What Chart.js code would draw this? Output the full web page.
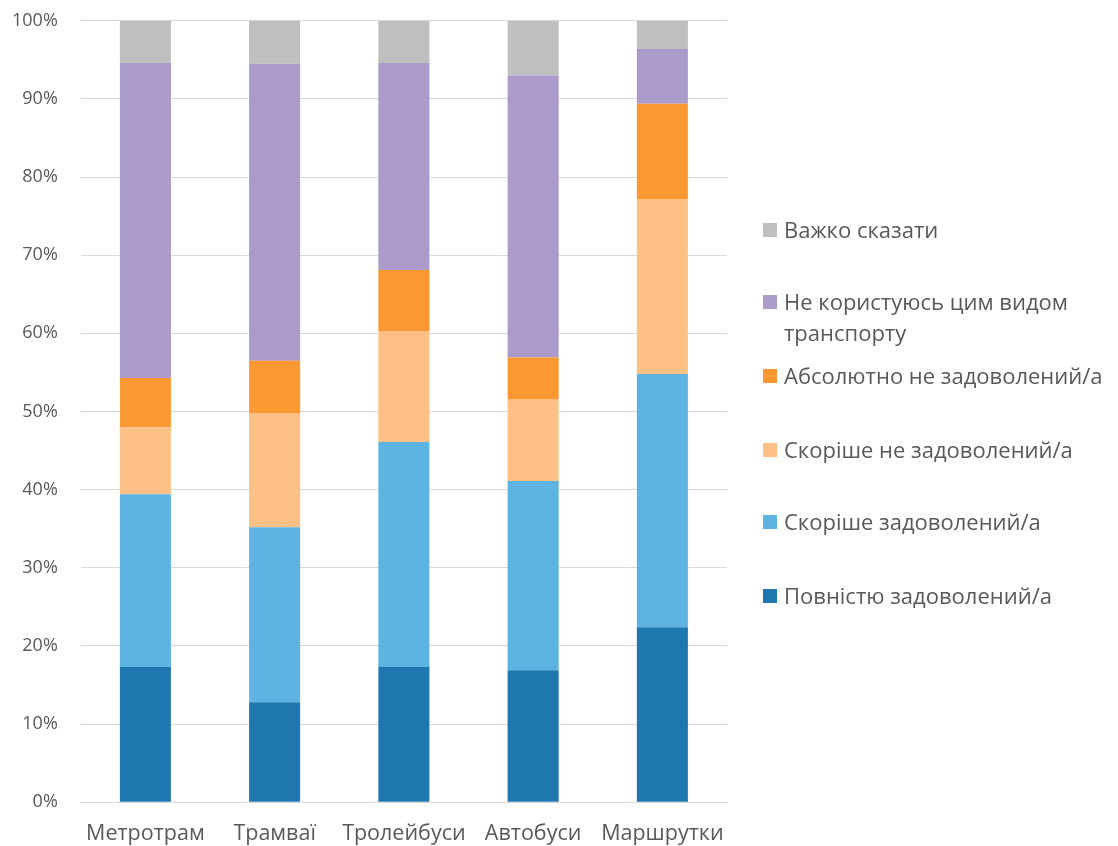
<!DOCTYPE html>
<html>
<head>
<meta charset="utf-8">
<script src="https://cdn.jsdelivr.net/npm/chart.js@4"></script>
<style>
    body { margin: 0; background: #fff; }
    #wrap { position: relative; width: 1118px; height: 846px; overflow: hidden; }
    #chart { position: absolute; left: 0; top: -13px; }
    #legend { position: absolute; left: 763px; top: 0; font-family: 'Open Sans', sans-serif; font-size: 22px; color: #595959; }
    .item { position: absolute; left: 0; width: 350px; line-height: 31px; white-space: nowrap; }
    .box { position: absolute; left: 0; top: 9px; width: 14px; height: 14px; }
    .txt { margin-left: 21px; }
</style>
</head>
<body>
<div id="wrap">
    <canvas id="chart" width="1118" height="859"></canvas>
    <div id="legend"></div>
</div>
<script>
const categories = ['Метротрам', 'Трамваї', 'Тролейбуси', 'Автобуси', 'Маршрутки'];
const seriesNames = ['Повністю задоволений/а', 'Скоріше задоволений/а', 'Скоріше не задоволений/а',
    'Абсолютно не задоволений/а', 'Не користуюсь цим видом транспорту', 'Важко сказати'];
const colours = ['#1f77b0', '#5db3e2', '#fec085', '#fb9831', '#ab9bca', '#bfbfbf'];

const fullySatisfied = [17.3, 12.8, 17.3, 16.9, 22.4];
const ratherSatisfied = [22.1, 22.4, 28.8, 24.2, 32.4];
const ratherNotSatisfied = [8.6, 14.6, 14.2, 10.5, 22.4];
const notSatisfied = [6.3, 6.7, 7.8, 5.3, 12.2];
const notUsing = [40.3, 38.0, 26.5, 36.1, 7.0];
const hardToSay = [5.4, 5.5, 5.4, 7.0, 3.6];

const seriesValues = [fullySatisfied, ratherSatisfied, ratherNotSatisfied, notSatisfied, notUsing, hardToSay];

// legend is drawn top-down in reverse order, like the stack
const legendTops = [214, 286, 360, 434, 506, 580];

function buildLegend() {
    const legend = document.getElementById('legend');
    for (let i = seriesNames.length - 1, row = 0; i >= 0; i--, row++) {
        const item = document.createElement('div');
        item.className = 'item';
        item.style.top = `${legendTops[row]}px`;
        item.innerHTML = `<span class="box" style="background:${colours[i]}"></span><div class="txt">${seriesNames[i]}</div>`;
        if (i === 4) {
            item.querySelector('.txt').innerHTML = 'Не користуюсь цим видом<br>транспорту';
        }
        legend.appendChild(item);
    }
}

const data = {
    labels: categories,
    datasets: seriesValues.map((values, i) => ({
        label: seriesNames[i],
        data: values,
        backgroundColor: colours[i],
        borderWidth: 0,
        barPercentage: 0.395,
        categoryPercentage: 1,
    })),
};

const ctx = document.querySelector('#chart').getContext('2d');
new Chart(ctx, {
    type: 'bar',
    data,
    options: {
        responsive: false,
        animation: false,
        layout: {
            padding: { top: 0, right: 391, left: -11, bottom: -20 },
        },
        plugins: {
            legend: { display: false },
            tooltip: { enabled: false },
        },
        scales: {
            x: {
                stacked: true,
                grid: { display: false, drawTicks: false },
                border: { color: '#d9d9d9', width: 1 },
                ticks: {
                    color: '#595959',
                    padding: 19,
                    autoSkip: false,
                    maxRotation: 0,
                    minRotation: 0,
                    font: { family: 'Open Sans', size: 21.5 },
                },
            },
            y: {
                stacked: true,
                min: 0,
                max: 100,
                grid: { color: '#d9d9d9', drawTicks: false },
                border: { display: false },
                ticks: {
                    stepSize: 10,
                    color: '#595959',
                    padding: 23,
                    font: { family: 'Open Sans', size: 18 },
                    callback: (v) => `${v}%`,
                },
            },
        },
    },
});

buildLegend();
</script>
</body>
</html>
